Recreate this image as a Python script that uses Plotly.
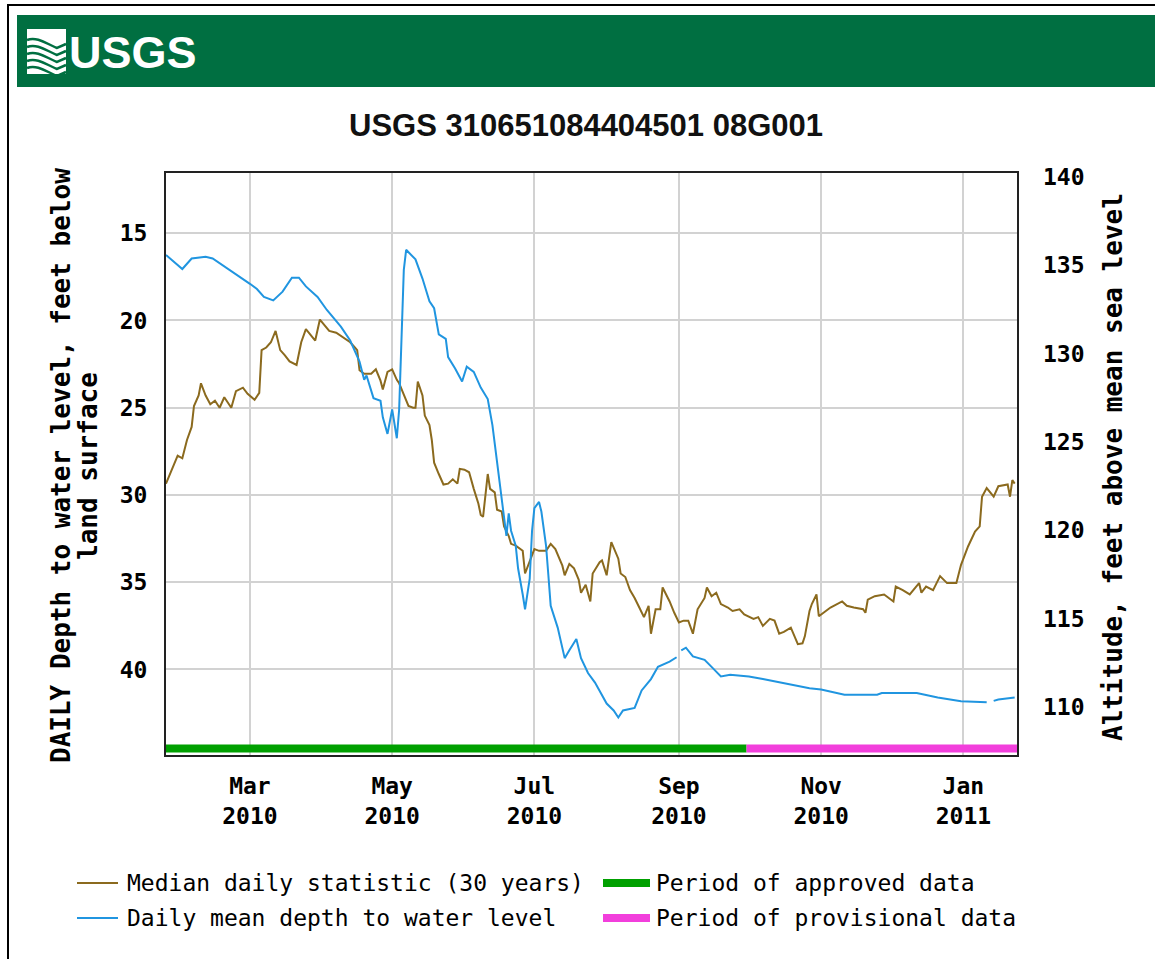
import plotly.graph_objects as go

# ---------------- data ----------------
mean_dates = [
    "2010-01-24", "2010-01-27", "2010-01-31", "2010-02-04", "2010-02-10", "2010-02-13",
    "2010-02-18", "2010-02-24", "2010-03-01", "2010-03-04", "2010-03-07", "2010-03-11",
    "2010-03-15", "2010-03-19", "2010-03-22", "2010-03-25", "2010-03-30", "2010-04-03",
    "2010-04-09", "2010-04-13", "2010-04-17", "2010-04-19", "2010-04-20", "2010-04-23",
    "2010-04-26", "2010-04-27", "2010-04-29", "2010-05-01", "2010-05-02", "2010-05-03",
    "2010-05-04", "2010-05-05", "2010-05-06", "2010-05-07", "2010-05-11", "2010-05-14",
    "2010-05-17", "2010-05-19", "2010-05-21", "2010-05-24", "2010-05-25", "2010-05-28",
    "2010-05-31", "2010-06-02", "2010-06-05", "2010-06-08", "2010-06-11", "2010-06-13",
    "2010-06-15", "2010-06-17", "2010-06-19", "2010-06-20", "2010-06-21", "2010-06-23",
    "2010-06-24", "2010-06-26", "2010-06-27", "2010-06-29", "2010-06-30", "2010-07-01",
    "2010-07-03", "2010-07-04", "2010-07-06", "2010-07-07", "2010-07-08", "2010-07-11",
    "2010-07-13", "2010-07-14", "2010-07-16", "2010-07-19", "2010-07-21", "2010-07-24",
    "2010-07-27", "2010-07-29", "2010-08-01", "2010-08-04", "2010-08-06", "2010-08-08",
    "2010-08-13", "2010-08-16", "2010-08-20", "2010-08-23", "2010-08-28", "2010-08-31",
    "2010-09-01", "2010-09-02", "2010-09-04", "2010-09-07", "2010-09-12", "2010-09-15",
    "2010-09-19", "2010-09-23", "2010-10-01", "2010-10-07", "2010-10-14", "2010-10-21",
    "2010-10-27", "2010-11-01", "2010-11-11", "2010-11-25", "2010-11-27", "2010-12-12",
    "2010-12-21", "2010-12-31", "2011-01-11", "2011-01-12", "2011-01-14", "2011-01-16",
    "2011-01-23",
]
mean_depth = [
    16.25, 16.6, 17.05, 16.45, 16.35, 16.45,
    16.9, 17.4, 17.9, 18.2, 18.65, 18.85,
    18.35, 17.55, 17.55, 18.05, 18.65, 19.4,
    20.35, 21.15, 22.35, 23.4, 23.15, 24.45,
    24.6, 25.55, 26.5, 25.1, 26.0, 26.75,
    25.1, 20.6, 17.1, 15.95, 16.5, 17.6,
    18.9, 19.3, 20.8, 21.05, 22.1, 22.75,
    23.5, 22.65, 22.95, 23.85, 24.5, 26.0,
    28.15, 30.3, 32.35, 31.05, 32.05, 32.9,
    34.2, 35.7, 36.55, 34.8, 32.05, 30.75,
    30.4, 30.95, 32.9, 34.6, 36.35, 37.6,
    38.9, 39.35, 38.9, 38.25, 39.35, 40.2,
    40.75, 41.2, 41.95, 42.35, 42.75, 42.35,
    42.2, 41.2, 40.55, 39.85, 39.55, 39.3,
    None, 38.9, 38.75, 39.25, 39.45, 39.85,
    40.4, 40.3, 40.4, 40.55, 40.75, 40.95,
    41.08, 41.15, 41.45, 41.45, 41.35, 41.35,
    41.6, 41.82, 41.88, None, 41.8, 41.72,
    41.6,
]

median_dates = [
    "2010-01-24", "2010-01-27", "2010-01-29", "2010-01-31", "2010-02-02", "2010-02-04",
    "2010-02-05", "2010-02-07", "2010-02-08", "2010-02-10", "2010-02-12", "2010-02-14",
    "2010-02-16", "2010-02-18", "2010-02-21", "2010-02-23", "2010-02-26", "2010-02-28",
    "2010-03-03", "2010-03-05", "2010-03-06", "2010-03-08", "2010-03-10", "2010-03-12",
    "2010-03-14", "2010-03-16", "2010-03-18", "2010-03-21", "2010-03-23", "2010-03-25",
    "2010-03-28", "2010-03-29", "2010-03-31", "2010-04-02", "2010-04-04", "2010-04-07",
    "2010-04-10", "2010-04-13", "2010-04-15", "2010-04-16", "2010-04-17", "2010-04-19",
    "2010-04-22", "2010-04-24", "2010-04-26", "2010-04-27", "2010-04-29", "2010-05-01",
    "2010-05-03", "2010-05-04", "2010-05-06", "2010-05-08", "2010-05-10", "2010-05-11",
    "2010-05-12", "2010-05-14", "2010-05-15", "2010-05-17", "2010-05-18", "2010-05-19",
    "2010-05-21", "2010-05-23", "2010-05-25", "2010-05-27", "2010-05-29", "2010-05-30",
    "2010-06-01", "2010-06-03", "2010-06-05", "2010-06-07", "2010-06-08", "2010-06-09",
    "2010-06-11", "2010-06-12", "2010-06-14", "2010-06-15", "2010-06-17", "2010-06-18",
    "2010-06-20", "2010-06-21", "2010-06-23", "2010-06-26", "2010-06-27", "2010-06-29",
    "2010-07-01", "2010-07-03", "2010-07-06", "2010-07-08", "2010-07-10", "2010-07-13",
    "2010-07-14", "2010-07-16", "2010-07-18", "2010-07-20", "2010-07-21", "2010-07-23",
    "2010-07-25", "2010-07-26", "2010-07-29", "2010-07-30", "2010-08-01", "2010-08-03",
    "2010-08-05", "2010-08-06", "2010-08-07", "2010-08-09", "2010-08-11", "2010-08-13",
    "2010-08-15", "2010-08-17", "2010-08-19", "2010-08-20", "2010-08-22", "2010-08-24",
    "2010-08-25", "2010-08-28", "2010-08-30", "2010-09-01", "2010-09-03", "2010-09-05",
    "2010-09-07", "2010-09-09", "2010-09-12", "2010-09-13", "2010-09-15", "2010-09-17",
    "2010-09-19", "2010-09-22", "2010-09-24", "2010-09-27", "2010-09-29", "2010-10-03",
    "2010-10-05", "2010-10-07", "2010-10-10", "2010-10-12", "2010-10-14", "2010-10-16",
    "2010-10-19", "2010-10-20", "2010-10-22", "2010-10-24", "2010-10-25", "2010-10-27",
    "2010-10-28", "2010-10-30", "2010-10-31", "2010-11-03", "2010-11-05", "2010-11-10",
    "2010-11-12", "2010-11-15", "2010-11-19", "2010-11-20", "2010-11-21", "2010-11-24",
    "2010-11-28", "2010-12-02", "2010-12-03", "2010-12-06", "2010-12-09", "2010-12-13",
    "2010-12-14", "2010-12-16", "2010-12-19", "2010-12-22", "2010-12-25", "2010-12-29",
    "2010-12-31", "2011-01-03", "2011-01-06", "2011-01-08", "2011-01-09", "2011-01-11",
    "2011-01-14", "2011-01-16", "2011-01-20", "2011-01-21", "2011-01-22", "2011-01-23",
]
median_depth = [
    29.35, 28.35, 27.75, 27.9, 26.85, 26.1,
    24.9, 24.3, 23.6, 24.3, 24.8, 24.6,
    25.0, 24.4, 25.0, 24.05, 23.85, 24.2,
    24.55, 24.15, 21.7, 21.55, 21.25, 20.6,
    21.7, 22.0, 22.35, 22.55, 21.25, 20.5,
    20.95, 21.15, 19.95, 20.3, 20.6, 20.7,
    20.95, 21.25, 21.55, 21.7, 22.85, 23.05,
    23.05, 22.8, 23.45, 23.95, 22.95, 22.8,
    23.4, 23.6, 24.25, 24.9, 25.0, 25.0,
    23.5, 24.3, 25.45, 26.0, 26.85, 28.15,
    28.8, 29.4, 29.35, 29.1, 29.35, 28.5,
    28.55, 28.7, 29.65, 30.5, 31.15, 31.25,
    28.8, 29.65, 29.85, 30.85, 30.95, 31.8,
    32.35, 32.8, 32.9, 33.2, 34.5, 33.75,
    33.1, 33.2, 33.2, 32.8, 33.1, 34.05,
    34.6, 33.95, 34.2, 34.85, 35.6, 35.15,
    36.1, 34.5, 33.85, 33.75, 34.6, 32.7,
    33.3, 33.65, 34.5, 34.7, 35.45, 35.9,
    36.45, 37.0, 36.35, 37.95, 36.55, 36.55,
    35.3, 36.1, 36.75, 37.3, 37.2, 37.2,
    37.95, 36.55, 35.9, 35.3, 35.8, 35.6,
    36.25, 36.45, 36.65, 36.55, 36.85, 37.1,
    37.0, 37.5, 37.1, 37.2, 37.95, 37.85,
    37.6, 37.95, 38.55, 38.5, 38.1, 36.65,
    36.25, 35.7, 36.95, 36.65, 36.45, 36.1,
    36.35, 36.45, 36.55, 36.75, 36.0, 35.8,
    35.7, 36.1, 35.25, 35.45, 35.7, 35.05,
    35.6, 35.25, 35.45, 34.65, 35.05, 35.05,
    34.0, 32.95, 32.1, 31.8, 30.1, 29.6,
    30.1, 29.5, 29.4, 30.1, 29.15, 29.35,
]

period_start = "2010-01-24"
provisional_start = "2010-09-30"
period_end = "2011-01-24"

x_tick_vals = ["2010-03-01", "2010-05-01", "2010-07-01", "2010-09-01", "2010-11-01", "2011-01-01"]
x_tick_text = ["Mar<br>2010", "May<br>2010", "Jul<br>2010", "Sep<br>2010", "Nov<br>2010", "Jan<br>2011"]
depth_ticks = [15, 20, 25, 30, 35, 40]
alt_ticks = [110, 115, 120, 125, 130, 135, 140]

title_text = "USGS 310651084404501 08G001"
left_title_1 = "DAILY Depth to water level, feet below"
left_title_2 = "land surface"
right_title = "Altitude, feet above mean sea level"
legend_median = "Median daily statistic (30 years)"
legend_mean = "Daily mean depth to water level"
legend_approved = "Period of approved data"
legend_provisional = "Period of provisional data"

# ---------------- styling / layout geometry ----------------
W, H = 1155, 959
L, R, T, B = 166, 1017, 173, 755

BROWN = "#8B6A1E"
BLUE = "#2095E0"
GREEN = "#00A000"
PINK = "#F23FDC"
HEADER = "#006F41"
MONO = "DejaVu Sans Mono, Liberation Mono, monospace"
SANS = "Liberation Sans, Arial, sans-serif"


def px(x):
    return (x - L) / (R - L)


def py(y):
    return (B - y) / (B - T)


fig = go.Figure()
fig.add_trace(go.Scatter(x=median_dates, y=median_depth, mode="lines",
                         line=dict(color=BROWN, width=2), showlegend=False,
                         connectgaps=False, hoverinfo="x+y"))
fig.add_trace(go.Scatter(x=mean_dates, y=mean_depth, mode="lines",
                         line=dict(color=BLUE, width=2), showlegend=False,
                         connectgaps=False, hoverinfo="x+y"))
fig.add_trace(go.Scatter(x=[], y=[], yaxis="y2", showlegend=False, hoverinfo="skip"))

shapes = []
# outer image border (top/left visible)
shapes.append(dict(type="rect", xref="paper", yref="paper", x0=px(8), x1=px(1175),
                   y0=py(985), y1=py(5), line=dict(color="black", width=2), layer="below"))
# green header
shapes.append(dict(type="rect", xref="paper", yref="paper", x0=px(17), x1=px(1175),
                   y0=py(87), y1=py(15), fillcolor=HEADER, line=dict(width=0), layer="below"))
# logo icon
shapes.append(dict(type="rect", xref="paper", yref="paper", x0=px(27), x1=px(66),
                   y0=py(74), y1=py(29), fillcolor="white", line=dict(width=0)))


def wave(y0, amp):
    pts = [(27, y0), (37, y0 - amp), (47, y0 + amp), (57, y0 + 2 * amp), (66, y0 + 4)]
    p = "M {} {}".format(px(pts[0][0]), py(pts[0][1]))
    p += " C {} {}, {} {}, {} {}".format(px(pts[1][0]), py(pts[1][1]), px(pts[2][0]),
                                         py(pts[2][1]), px(pts[3][0]), py(pts[3][1]))
    p += " L {} {}".format(px(pts[4][0]), py(pts[4][1]))
    return p


for y0 in [40, 47, 54, 61, 68]:
    shapes.append(dict(type="path", xref="paper", yref="paper", path=wave(y0, 4),
                       line=dict(color=HEADER, width=2.5)))

# approved / provisional period bars
shapes.append(dict(type="rect", xref="x", yref="paper", x0=period_start, x1=provisional_start,
                   y0=py(752.5), y1=py(744.5), fillcolor=GREEN, line=dict(width=0), layer="above"))
shapes.append(dict(type="rect", xref="x", yref="paper", x0=provisional_start, x1=period_end,
                   y0=py(752.5), y1=py(744.5), fillcolor=PINK, line=dict(width=0), layer="above"))

# legend swatches
shapes.append(dict(type="line", xref="paper", yref="paper", x0=px(77), x1=px(118),
                   y0=py(883), y1=py(883), line=dict(color=BROWN, width=2)))
shapes.append(dict(type="line", xref="paper", yref="paper", x0=px(77), x1=px(118),
                   y0=py(918), y1=py(918), line=dict(color=BLUE, width=2)))
shapes.append(dict(type="rect", xref="paper", yref="paper", x0=px(603), x1=px(650),
                   y0=py(887), y1=py(879), fillcolor=GREEN, line=dict(width=0)))
shapes.append(dict(type="rect", xref="paper", yref="paper", x0=px(603), x1=px(650),
                   y0=py(922), y1=py(914), fillcolor=PINK, line=dict(width=0)))

annotations = []
annotations.append(dict(text="USGS", xref="paper", yref="paper", x=px(67), y=py(52),
                        xanchor="left", yanchor="middle", showarrow=False,
                        font=dict(family=SANS, size=45, color="white", weight="bold")))
annotations.append(dict(text=title_text, xref="paper", yref="paper", x=px(586), y=py(125),
                        xanchor="center", yanchor="middle", showarrow=False,
                        font=dict(family=SANS, size=31, color="#111111", weight="bold")))
annotations.append(dict(text=left_title_1, xref="paper", yref="paper", x=px(61), y=py(466),
                        xanchor="center", yanchor="middle", textangle=-90, showarrow=False,
                        font=dict(family=MONO, size=26, color="black", weight="bold")))
annotations.append(dict(text=left_title_2, xref="paper", yref="paper", x=px(88), y=py(466),
                        xanchor="center", yanchor="middle", textangle=-90, showarrow=False,
                        font=dict(family=MONO, size=26, color="black", weight="bold")))
annotations.append(dict(text=right_title, xref="paper", yref="paper", x=px(1113), y=py(467),
                        xanchor="center", yanchor="middle", textangle=-90, showarrow=False,
                        font=dict(family=MONO, size=26, color="black", weight="bold")))
for txt, xx, yy in [(legend_median, 125, 883), (legend_mean, 125, 918),
                    (legend_approved, 654, 883), (legend_provisional, 654, 918)]:
    annotations.append(dict(text=txt, xref="paper", yref="paper", x=px(xx), y=py(yy),
                            xanchor="left", yanchor="middle", showarrow=False,
                            font=dict(family=MONO, size=23, color="black")))

fig.update_layout(
    width=W, height=H,
    margin=dict(l=L, r=W - R, t=T, b=H - B, autoexpand=False),
    paper_bgcolor="white", plot_bgcolor="white",
    showlegend=False,
    shapes=shapes, annotations=annotations,
    xaxis=dict(type="date", range=[period_start, period_end],
               tickvals=x_tick_vals, ticktext=x_tick_text, ticks="",
               showgrid=True, gridcolor="#D2D2D2", gridwidth=2,
               showline=True, linecolor="#222222", linewidth=2, mirror=True,
               zeroline=False, ticklabelstandoff=9,
               tickfont=dict(family=MONO, size=23, color="black", weight="bold")),
    yaxis=dict(range=[44.9, 11.55], tickvals=depth_ticks, ticks="",
               showgrid=True, gridcolor="#D2D2D2", gridwidth=2,
               showline=True, linecolor="#222222", linewidth=2, mirror=True,
               zeroline=False, ticklabelstandoff=12,
               tickfont=dict(family=MONO, size=23, color="black", weight="bold")),
    yaxis2=dict(range=[107.28, 140.22], tickvals=alt_ticks, ticks="", overlaying="y",
                side="right", showgrid=False, showline=False, zeroline=False,
                ticklabelstandoff=25,
                tickfont=dict(family=MONO, size=23, color="black", weight="bold")),
)

fig.write_html("out.html", config={"displayModeBar": False},
               post_script="document.body.style.margin='0';")
